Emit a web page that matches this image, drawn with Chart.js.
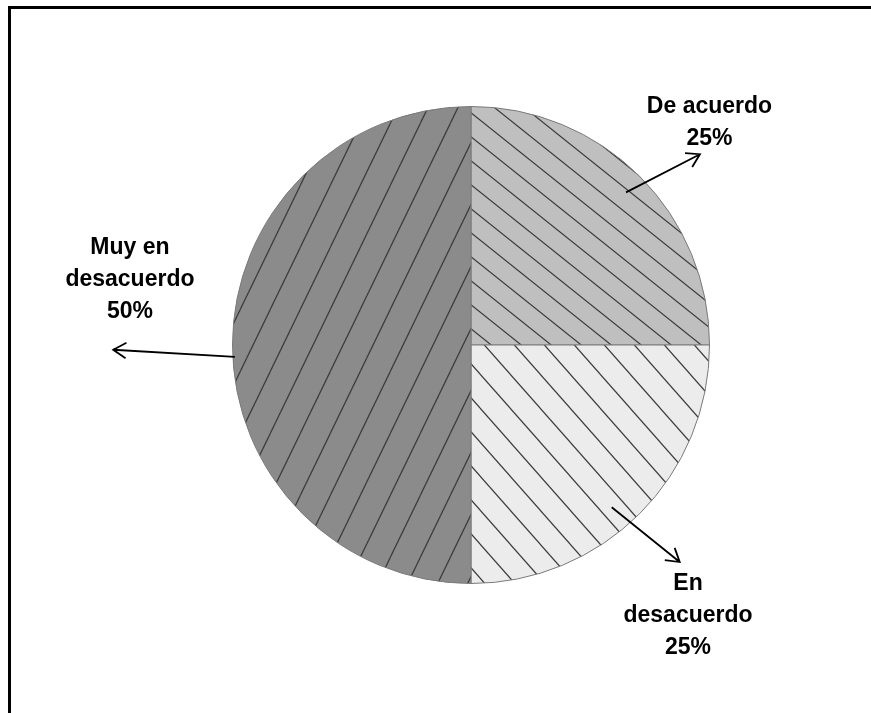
<!DOCTYPE html>
<html>
<head>
<meta charset="utf-8">
<script src="https://cdn.jsdelivr.net/npm/chart.js@4.4.1/dist/chart.umd.min.js"></script>
<style>
html, body { margin: 0; padding: 0; background: #fff; overflow: hidden; }
#wrap { position: relative; width: 871px; height: 713px; }
#frame { position: absolute; left: 8px; top: 6px; width: 900px; height: 800px; border: 3px solid #000; box-sizing: border-box; }
canvas { position: absolute; left: 0; top: 0; }
</style>
</head>
<body>
<div id="wrap">
  <div id="frame"></div>
  <canvas id="myChart" width="871" height="713"></canvas>
</div>
<script>
// datos del gráfico
const categorias = ['De acuerdo', 'En desacuerdo', 'Muy en desacuerdo'];
const porcentajes = [25, 25, 50];
// texto de las etiquetas (una línea por elemento)
const etiquetas = [
	['De acuerdo', '25%'],
	['En', 'desacuerdo', '25%'],
	['Muy en', 'desacuerdo', '50%']
];

const ctx = document.getElementById('myChart');
const c2d = ctx.getContext('2d');

// trama rayada: una diagonal por baldosa
function trama(fondo, w, h, sube) {
	const t = document.createElement('canvas');
	t.width = w;
	t.height = h;
	const g = t.getContext('2d');
	g.fillStyle = fondo;
	g.fillRect(0, 0, w, h);
	g.strokeStyle = '#3a3a3a';
	g.lineWidth = 1.2;
	for (const dx of [-w, 0, w]) {
		for (const dy of [-h, 0, h]) {
			g.beginPath();
			if (sube) {
				g.moveTo(dx, dy + h);
				g.lineTo(dx + w, dy);
			} else {
				g.moveTo(dx, dy);
				g.lineTo(dx + w, dy + h);
			}
			g.stroke();
		}
	}
	return c2d.createPattern(t, 'repeat');
}

const rellenos = [
	trama('#bfbfbf', 30, 24, false),
	trama('#ececec', 30, 34, false),
	trama('#8b8b8b', 30, 62, true)
];

// posición de flecha y texto, en múltiplos del radio respecto al centro
const posiciones = [
	{ ini: [0.65, -0.64], fin: [0.96, -0.80], txt: [1.0, -1.0] },
	{ ini: [0.59, 0.68], fin: [0.875, 0.91], txt: [0.91, 1.0] },
	{ ini: [-0.99, 0.05], fin: [-1.50, 0.02], txt: [-1.43, -0.41] }
];

function flecha(g, x1, y1, x2, y2) {
	const ang = Math.atan2(y2 - y1, x2 - x1);
	const L = 15;
	g.beginPath();
	g.moveTo(x1, y1);
	g.lineTo(x2, y2);
	g.moveTo(x2 - L * Math.cos(ang - 0.55), y2 - L * Math.sin(ang - 0.55));
	g.lineTo(x2, y2);
	g.lineTo(x2 - L * Math.cos(ang + 0.55), y2 - L * Math.sin(ang + 0.55));
	g.stroke();
}

const etiquetasPlugin = {
	id: 'etiquetas',
	afterDraw(chart) {
		const g = chart.ctx;
		const meta = chart.getDatasetMeta(0);
		g.save();
		g.strokeStyle = '#000';
		g.lineWidth = 1.8;
		g.fillStyle = '#000';
		g.font = 'bold 23px "Liberation Sans", Arial, sans-serif';
		g.textAlign = 'center';
		g.textBaseline = 'middle';
		meta.data.forEach((arc, i) => {
			const r = arc.outerRadius;
			const p = posiciones[i];
			flecha(g, arc.x + p.ini[0] * r, arc.y + p.ini[1] * r, arc.x + p.fin[0] * r, arc.y + p.fin[1] * r);
			const lineas = etiquetas[i];
			const tx = arc.x + p.txt[0] * r;
			const ty = arc.y + p.txt[1] * r;
			lineas.forEach((l, k) => {
				g.fillText(l, tx, ty + k * 32);
			});
		});
		g.restore();
	}
};

new Chart(ctx, {
	type: 'pie',
	data: {
		labels: categorias,
		datasets: [{
			data: porcentajes,
			backgroundColor: rellenos,
			borderColor: '#7a7a7a',
			borderWidth: 1
		}]
	},
	options: {
		responsive: false,
		animation: false,
		layout: {
			padding: { left: 232, right: 161, top: 106, bottom: 129 }
		},
		plugins: {
			legend: { display: false },
			tooltip: { enabled: false }
		}
	},
	plugins: [etiquetasPlugin]
});
</script>
</body>
</html>
